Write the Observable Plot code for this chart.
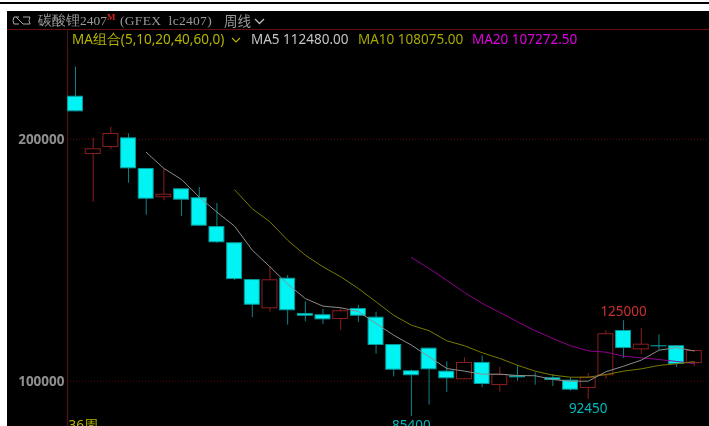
<!DOCTYPE html>
<html><head><meta charset="utf-8">
<script src="https://cdn.jsdelivr.net/npm/d3@7"></script>
<script src="https://cdn.jsdelivr.net/npm/@observablehq/plot@0.6"></script>
<style>
html,body{margin:0;padding:0;background:#fff;overflow:hidden;width:709px;height:426px}
#topline{height:2px;margin-top:2px;background:#000}
#panel{position:absolute;left:7px;top:11px;width:702px;height:415px;background:#000;overflow:hidden}
#inner{filter:blur(.3px)}
#head{height:18px;border-bottom:1px solid #6a0c0c;color:#9a9a9a;font:13.5px/19px "Liberation Serif","Noto Serif",serif;white-space:pre;position:relative}
#head span{position:absolute;top:0}
#ma{height:18px;margin-left:60px;border-left:1px solid #4a1212;font:13.5px/18px "Noto Sans","Liberation Sans",sans-serif;white-space:pre;position:relative}
#ma span{position:absolute;top:0}
svg{display:block}
</style></head><body>
<div id="topline"></div>
<div id="panel"><div id="inner">
 <div id="head">
  <svg style="position:absolute;left:5px;top:5px" width="19" height="9" viewBox="0 0 19 9"><path d="M7 1H2L1 4.5 2 8H7M4 1 L11 8 H18L17 4.5 18 1H11" fill="none" stroke="#aaa" stroke-width="1"/></svg>
  <span style="left:31px">碳酸锂2407<sup style="color:#d02020;font-size:9px;line-height:0;font-weight:bold">M</sup></span>
  <span style="left:113px;letter-spacing:.3px">(GFEX  lc2407)</span>
  <span style="left:217px;font-family:'Noto Sans CJK SC'">周线</span>
  <svg style="position:absolute;left:247px;top:7px" width="11" height="7" viewBox="0 0 11 7"><path d="M1 1l4.5 4.5L10 1" fill="none" stroke="#bbb" stroke-width="1.3"/></svg>
 </div>
 <div id="ma">
  <span style="left:4px;color:#b5b500">MA组合(5,10,20,40,60,0)</span>
  <svg style="position:absolute;left:163px;top:7px" width="10" height="6" viewBox="0 0 10 6"><path d="M1 1l4 4 4-4" fill="none" stroke="#b5b500" stroke-width="1.1"/></svg>
  <span style="left:183px;color:#c4c4c4">MA5 112480.00</span>
  <span style="left:290px;color:#a8a800">MA10 108075.00</span>
  <span style="left:404px;color:#e000e0">MA20 107272.50</span>
 </div>
 <div id="chart"></div>
</div></div>
<script>
const opens  = [217750,193650,196550,200550,187900,175800,179500,175800,163900,157200,142000,129900,142550,128000,127450,125500,130050,126450,115150,104300,113650,104150,100600,107750,98200,102250,101100,101400,100400,97000,102250,120950,112950,114650,114650,107300];
const closes = [211300,196050,202350,187750,175200,177250,174800,164050,157200,142000,131400,141900,129100,126850,125350,129100,126850,114750,104550,102250,104700,101000,107750,98650,102750,101400,100700,100300,96300,101650,119600,113500,115300,114200,106900,112700];
const highs  = [229750,200400,204950,202200,187900,187450,179500,180050,173450,157200,142000,147250,143700,132800,129650,130050,131400,128500,115150,104550,113650,108000,109650,110350,105650,106500,103450,102750,101550,103200,120950,125000,121800,119150,114750,112700];
const lows   = [211300,173850,195750,181800,168600,174550,168050,164050,156900,141600,126200,128500,123150,124550,123450,121050,124150,111150,101800,85400,90100,95350,100600,97250,95450,100000,98350,97800,95850,92450,100850,109400,111050,112800,105650,105950];
const ma5Start = 4;
const ma5  = [194600,187900,183350,176050,169850,164050,154150,147250,140100,134150,131000,130350,128800,123850,119000,114900,110100,105250,104150,102900,102900,102350,102250,100700,100000,100000,103900,106200,108700,112800,113900,112480];
const ma10Start = 9;
const ma10 = [179100,171250,165850,158250,152050,147250,143150,138300,132800,127250,123150,120850,116700,114650,111750,109400,106600,104150,102500,101650,101650,102750,104150,105100,106500,107200,108075];
const ma20Start = 19;
const ma20 = [151100,146550,141750,136650,132100,128400,124550,120850,117650,114650,112550,112000,110350,109650,108950,108150,107272.5];
const priceTicks = [100000,200000];
const peaks = [{i:31,v:125000,t:"125000"}];
const troughs = [{i:19,v:85400,t:"85400"},{i:29,v:92450,t:"92450"}];

const candles = opens.map((o,i)=>({i,open:o,close:closes[i],high:highs[i],low:lows[i]}));
const ups = candles.filter(d=>d.close>d.open);
const downs = candles.filter(d=>d.close<=d.open);
const series = (arr,start)=>arr.map((v,k)=>({i:k+start,v}));
const RED="#8c1f1f", CY="#00f4f4", TEAL="#0b8488";
const font='"Noto Sans","Liberation Sans",sans-serif';

const plot = Plot.plot({
  width:702,height:378,
  marginLeft:60,marginRight:0,marginTop:0,marginBottom:0,
  style:{background:"transparent",fontFamily:font},
  x:{type:"linear",domain:[-0.452,35.86],axis:null},
  y:{domain:[81282,237470]},
  marks:[
    Plot.frame({anchor:"left",stroke:"#4a1212",strokeWidth:1.4}),
    Plot.ruleY(priceTicks,{stroke:"#5c0c0c",strokeDasharray:"1,2"}),
    Plot.axisY({ticks:priceTicks,tickSize:0,tickPadding:3,tickFormat:d=>String(d),label:null,fill:"#8f8f8f",fontSize:13.5,fontWeight:"bold"}),
    Plot.ruleX(downs,{x:"i",y1:"low",y2:"high",stroke:TEAL}),
    Plot.ruleX(ups,{x:"i",y1:"low",y2:"high",stroke:RED}),
    Plot.rect(downs,{x1:d=>d.i-.45,x2:d=>d.i+.45,y1:"open",y2:"close",fill:CY,stroke:"#079a9a",inset:.5}),
    Plot.rect(ups,{x1:d=>d.i-.45,x2:d=>d.i+.45,y1:"open",y2:"close",fill:"#000",stroke:RED,inset:.5}),
    Plot.line(series(ma20,ma20Start),{x:"i",y:"v",stroke:"#8f008f",strokeWidth:1}),
    Plot.line(series(ma10,ma10Start),{x:"i",y:"v",stroke:"#7b7a00",strokeWidth:1}),
    Plot.line(series(ma5,ma5Start),{x:"i",y:"v",stroke:"#8c8c8c",strokeWidth:1}),
    Plot.text(peaks,{x:"i",y:"v",text:"t",fill:"#cc3030",fontSize:13.5,dy:-9}),
    Plot.text(troughs,{x:"i",y:"v",text:"t",fill:"#00b8bc",fontSize:13.5,dy:9}),
    Plot.text(["36周"],{frameAnchor:"bottom-left",text:d=>d,fill:"#b5b500",fontSize:13.5,dx:1,dy:3})
  ]
});
document.getElementById("chart").append(plot);
</script>
</body></html>
